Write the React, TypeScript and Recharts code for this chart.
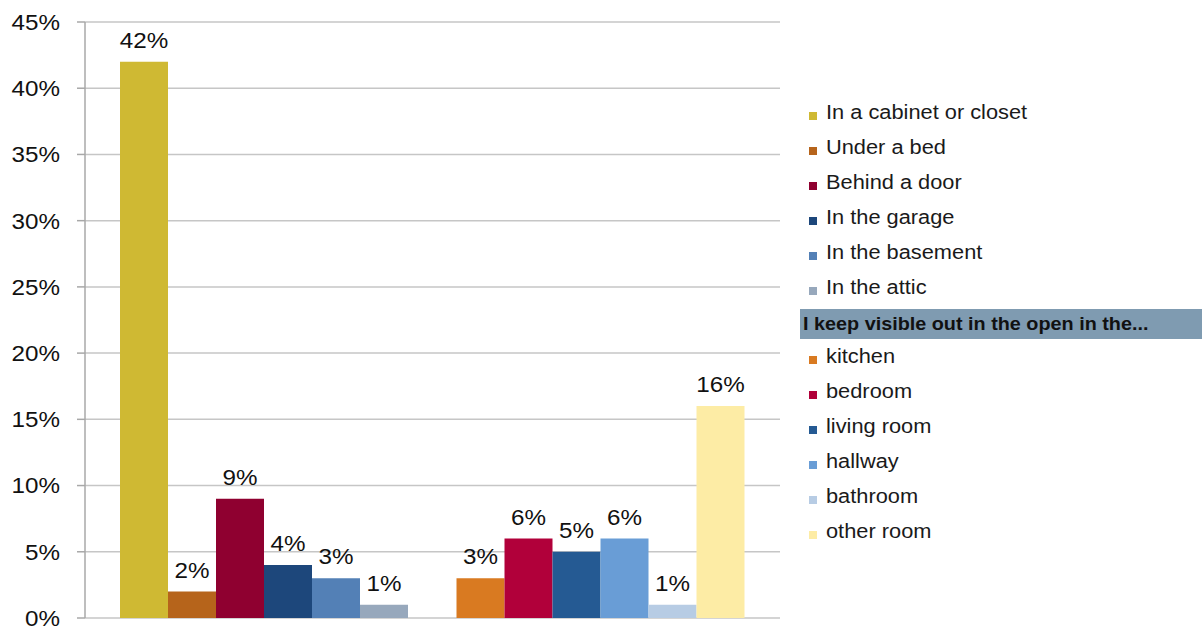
import React from 'react';
import { BarChart, Bar, XAxis, YAxis, CartesianGrid, Cell, Legend } from 'recharts';

const groups = ['Hidden', 'Visible'];
const hiddenLabels = ['In a cabinet or closet', 'Under a bed', 'Behind a door', 'In the garage', 'In the basement', 'In the attic'];
const hiddenValues = [42, 2, 9, 4, 3, 1];
const hiddenColors = ['#CFB933', '#B6641B', '#8F0030', '#1D477B', '#5380B6', '#97A8BC'];
const visibleHeader = 'I keep visible out in the open in the...';
const visibleLabels = ['kitchen', 'bedroom', 'living room', 'hallway', 'bathroom', 'other room'];
const visibleValues = [3, 6, 5, 6, 1, 16];
const visibleColors = ['#D97A21', '#B1003A', '#255A93', '#699DD6', '#B7CCE4', '#FDECA5'];
const yTicks = [0, 5, 10, 15, 20, 25, 30, 35, 40, 45];

const seriesKeys = hiddenValues.map((_, i) => `s${i}`);
const data = [
  Object.fromEntries([['group', groups[0]], ...hiddenValues.map((v, i) => [seriesKeys[i], v])]),
  Object.fromEntries([['group', groups[1]], ...visibleValues.map((v, i) => [seriesKeys[i], v])]),
];

const FONT = '"Liberation Sans", Arial, sans-serif';

const YTick = (props: any) => {
  const { x, y, payload } = props;
  return (
    <g transform={`translate(${x},${y})`}>
      <text transform="scale(1.1,1)" textAnchor="end" dy="0.36em" fontFamily={FONT} fontSize={22} fill="#111">
        {`${payload.value}%`}
      </text>
    </g>
  );
};

const BarLabel = (props: any) => {
  const { x, y, width, value } = props;
  if (value == null) return null;
  return (
    <g transform={`translate(${Number(x) + Number(width) / 2},${Number(y) - 14})`}>
      <text transform="scale(1.1,1)" textAnchor="middle" fontFamily={FONT} fontSize={22} fill="#111">
        {`${value}%`}
      </text>
    </g>
  );
};

const Row = ({ color, label }: { color: string; label: string }) => (
  <div style={{ height: 35, display: 'flex', alignItems: 'center', position: 'relative' }}>
    <div style={{ position: 'absolute', left: 9, top: 17, width: 8, height: 8, background: color }} />
    <div
      style={{
        position: 'absolute',
        left: 26,
        top: 0,
        height: 35,
        lineHeight: '35px',
        fontFamily: FONT,
        fontSize: 20,
        color: '#1a1a1a',
        whiteSpace: 'nowrap',
        transform: 'scaleX(1.09)',
        transformOrigin: 'left center',
      }}
    >
      {label}
    </div>
  </div>
);

const LegendContent = () => (
  <div style={{ width: 402 }}>
    {hiddenLabels.map((l, i) => (
      <Row key={l} color={hiddenColors[i]} label={l} />
    ))}
    <div
      style={{
        marginTop: 4,
        height: 30,
        background: '#7F9BB1',
        position: 'relative',
      }}
    >
      <div
        style={{
          position: 'absolute',
          left: 3,
          top: 0,
          lineHeight: '30px',
          fontFamily: FONT,
          fontWeight: 'bold',
          fontSize: 18,
          color: '#111',
          whiteSpace: 'nowrap',
          transform: 'scaleX(1.1)',
          transformOrigin: 'left center',
        }}
      >
        {visibleHeader}
      </div>
    </div>
    {visibleLabels.map((l, i) => (
      <Row key={l} color={visibleColors[i]} label={l} />
    ))}
  </div>
);

export default function App() {
  return (
    <div style={{ position: 'absolute', left: 0, top: 0, width: 1202, height: 626, background: '#fff' }}>
      <BarChart
        width={1202}
        height={626}
        data={data}
        margin={{ top: 22, right: 422, bottom: 8, left: 0 }}
        barGap={0}
        barCategoryGap={24}
      >
        <CartesianGrid vertical={false} stroke="#C6C6C6" strokeWidth={1.5} />
        <XAxis xAxisId="cat" dataKey="group" type="category" hide padding={{ left: 11, right: 11 }} />
        <XAxis
          xAxisId="frame"
          type="number"
          domain={[0, 2]}
          ticks={[0, 2]}
          height={0}
          tick={false}
          tickSize={8}
          axisLine={{ stroke: '#A8A8A8', strokeWidth: 1.5 }}
          tickLine={{ stroke: '#A8A8A8', strokeWidth: 1.5 }}
        />
        <YAxis
          width={85}
          domain={[0, 45]}
          ticks={yTicks}
          interval={0}
          tickSize={8}
          tickMargin={17}
          tick={<YTick />}
          axisLine={{ stroke: '#A8A8A8', strokeWidth: 1.5 }}
          tickLine={{ stroke: '#A8A8A8', strokeWidth: 1.5 }}
        />
        <Legend
          layout="vertical"
          align="center"
          verticalAlign="middle"
          content={<LegendContent />}
          wrapperStyle={{ left: 800, top: 94.5, width: 402 }}
        />
        {seriesKeys.map((k, i) => (
          <Bar key={k} dataKey={k} xAxisId="cat" isAnimationActive={false} label={<BarLabel />}>
            {data.map((_, j) => (
              <Cell key={j} fill={j === 0 ? hiddenColors[i] : visibleColors[i]} />
            ))}
          </Bar>
        ))}
      </BarChart>
    </div>
  );
}
